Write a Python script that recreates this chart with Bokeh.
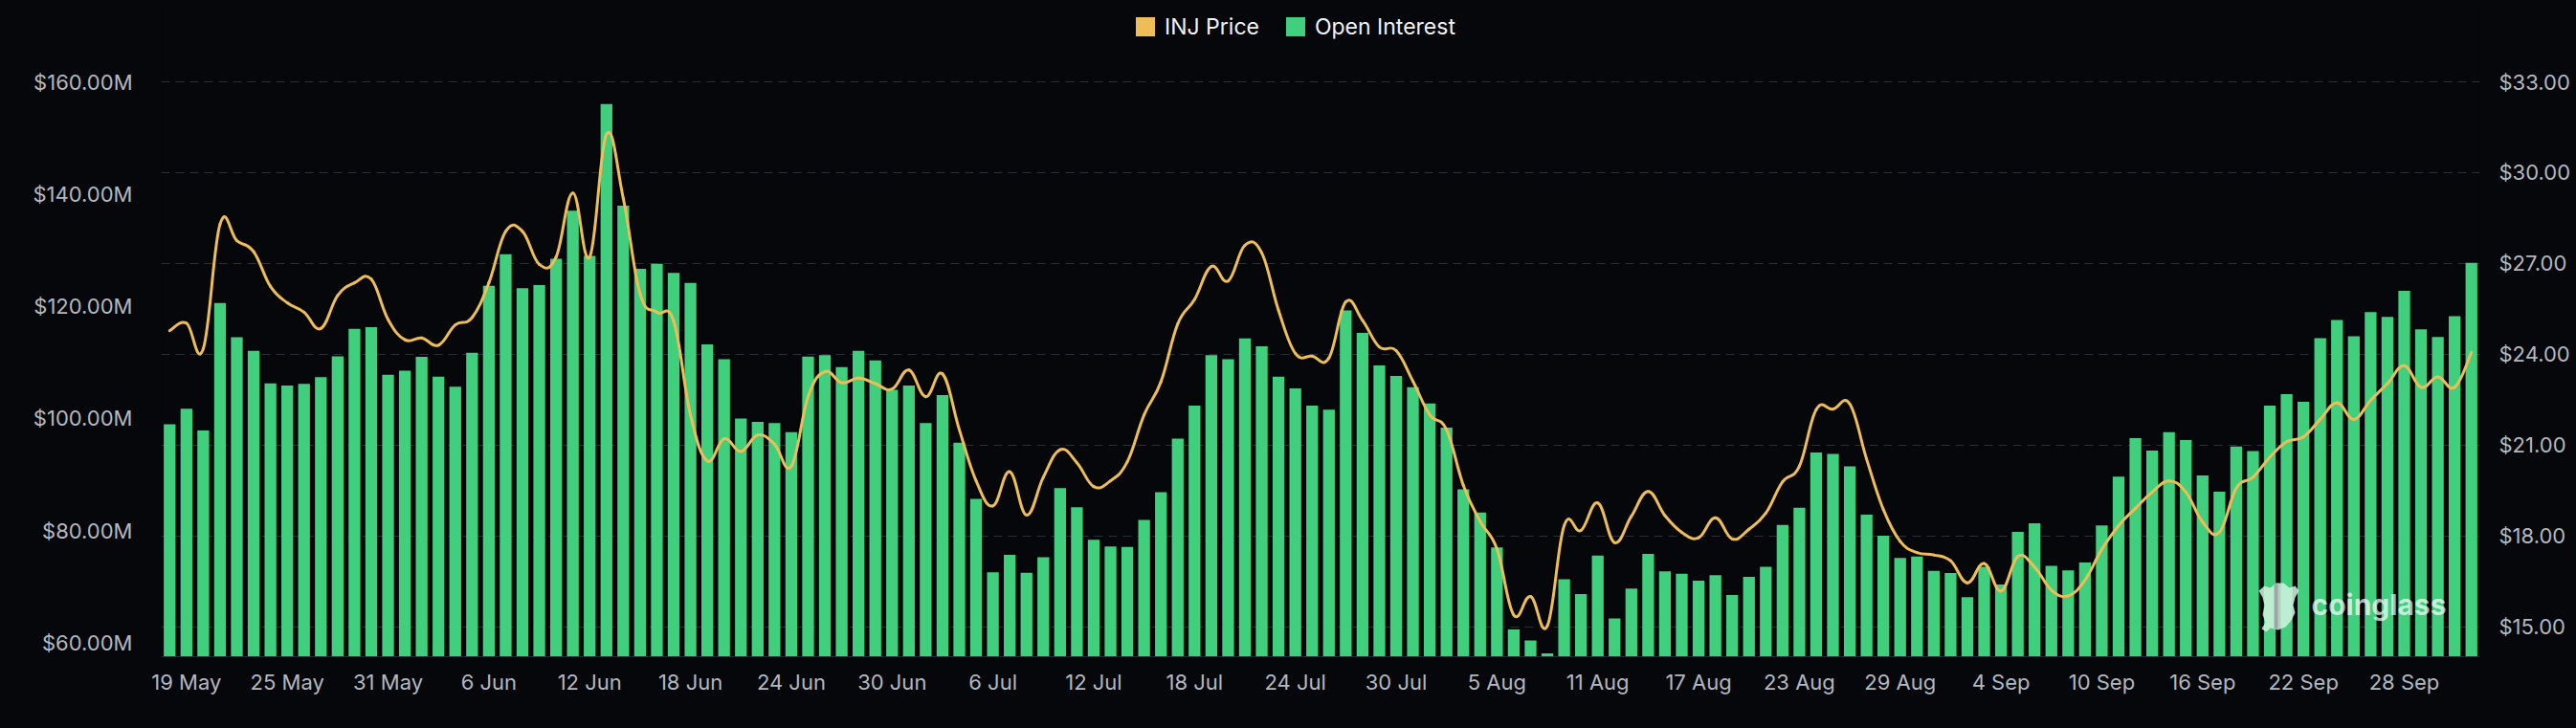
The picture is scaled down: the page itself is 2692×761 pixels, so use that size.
import pandas as pd
from bokeh.plotting import figure
from bokeh.models import (Range1d, LinearAxis, FixedTicker, PrintfTickFormatter, Grid,
                          Legend, LegendItem, ColumnDataSource, Label, PolyAnnotation,
                          BoxAnnotation)
from bokeh.embed import file_html
from bokeh.resources import INLINE

# ---------------- data ----------------
START_DATE = "2024-05-18"

OPEN_INTEREST_M = [
    98.95, 101.7, 97.85, 120.55, 114.45, 112.05, 106.25, 105.85, 106.15, 107.35,
    111.05, 115.95, 116.25, 107.75, 108.5, 110.95, 107.45, 105.65, 111.7, 123.65,
    129.25, 123.2, 123.75, 128.45, 137.0, 128.95, 156.05, 137.9, 126.65, 127.55,
    125.95, 124.15, 113.2, 110.55, 99.95, 99.35, 99.15, 97.55, 111.0, 111.25,
    109.15, 112.05, 110.35, 105.1, 105.85, 99.15, 104.15, 95.65, 85.65, 72.55,
    75.65, 72.45, 75.25, 87.55, 84.15, 78.35, 77.15, 77.05, 81.9, 86.85,
    96.4, 102.25, 111.25, 110.55, 114.25, 112.85, 107.45, 105.35, 102.25, 101.55,
    119.25, 115.25, 109.45, 107.55, 105.55, 102.65, 98.35, 87.35, 83.2, 77.0,
    62.35, 60.4, 58.1, 71.31, 68.65, 75.55, 64.31, 69.65, 75.82, 72.74,
    72.29, 71.05, 72.03, 68.5, 71.76, 73.53, 80.98, 84.05, 93.92, 93.66,
    91.44, 82.81, 79.09, 75.1, 75.36, 72.81, 72.42, 68.1, 73.53, 70.39,
    79.74, 81.31, 73.72, 72.88, 74.31, 80.92, 89.61, 96.47, 94.25, 97.52,
    96.14, 89.8, 86.93, 94.97, 94.18, 102.29, 104.31, 102.94, 114.31, 117.52,
    114.64, 118.95, 118.1, 122.74, 115.88, 114.51, 118.23, 127.71,
]

INJ_PRICE = [
    24.78, 25.03, 24.18, 28.30, 27.75, 27.39, 26.24, 25.70, 25.39, 24.85,
    25.94, 26.36, 26.48, 25.15, 24.48, 24.54, 24.30, 24.97, 25.21, 26.36,
    28.06, 28.06, 26.97, 27.21, 29.33, 27.21, 31.27, 29.15, 26.00, 25.39,
    25.09, 22.00, 20.48, 21.21, 20.79, 21.33, 21.03, 20.30, 22.60, 23.43,
    23.06, 23.21, 23.03, 22.85, 23.48, 22.60, 23.35, 21.51, 19.82, 18.99,
    20.12, 18.69, 19.94, 20.85, 20.42, 19.63, 19.82, 20.45, 22.00, 23.09,
    25.00, 25.81, 26.90, 26.42, 27.60, 27.35, 25.45, 24.03, 23.94, 23.88,
    25.73, 25.12, 24.24, 24.12, 23.11, 22.00, 21.51, 19.67, 18.48, 17.57,
    15.39, 16.00, 15.03, 18.34, 18.18, 19.09, 17.78, 18.65, 19.47, 18.67,
    18.12, 17.94, 18.60, 17.90, 18.22, 18.75, 19.79, 20.30, 22.17, 22.19,
    22.36, 20.54, 18.87, 17.82, 17.45, 17.37, 17.18, 16.45, 17.09, 16.18,
    17.32, 16.97, 16.21, 16.02, 16.54, 17.56, 18.34, 18.91, 19.45, 19.82,
    19.45, 18.46, 18.12, 19.57, 19.94, 20.60, 21.11, 21.27, 21.85, 22.40,
    21.85, 22.48, 23.03, 23.62, 22.91, 23.25, 22.91, 24.06,
]

X_TICK_LABELS = ["19 May", "25 May", "31 May", "6 Jun", "12 Jun", "18 Jun", "24 Jun",
                 "30 Jun", "6 Jul", "12 Jul", "18 Jul", "24 Jul", "30 Jul", "5 Aug",
                 "11 Aug", "17 Aug", "23 Aug", "29 Aug", "4 Sep", "10 Sep", "16 Sep",
                 "22 Sep", "28 Sep"]
LEFT_TICKS = [60, 80, 100, 120, 140, 160]
RIGHT_TICKS = [15, 18, 21, 24, 27, 30, 33]
# value ranges; the frame also holds the legend strip above the $160M / $33 line
LEFT_RANGE = (57.5, 174.5)
RIGHT_RANGE = (14.01, 35.686)

# ---------------- styles ----------------
BG = "#05070b"
GREEN = "#40cf7c"
ORANGE = "#efbd55"
AXIS_TEXT = "#b3b7bf"
LEGEND_TEXT = "#f2f3f5"
GRID = "#2a2e36"
FONT = "Inter"

dates = pd.date_range(START_DATE, periods=len(OPEN_INTEREST_M), freq="D")
date_labels = [f"{d.day} {d.strftime('%b')}" for d in dates]
xs = list(range(len(dates)))
tick_pos = [i for i, lab in enumerate(date_labels) if lab in X_TICK_LABELS]

p = figure(width=2692, height=761, output_backend="svg", toolbar_location=None,
           x_range=Range1d(-0.5, len(xs) - 0.5), y_range=Range1d(*LEFT_RANGE),
           min_border_left=168, min_border_right=101, min_border_top=0, min_border_bottom=75,
           background_fill_color=BG, border_fill_color=None, outline_line_color=None)
p.extra_y_ranges = {"price": Range1d(*RIGHT_RANGE)}

p.xgrid.visible = False
p.ygrid.visible = False

grid = Grid(dimension=1, ticker=FixedTicker(ticks=RIGHT_TICKS, minor_ticks=[]),
            y_range_name="price", grid_line_color=GRID, grid_line_dash="9 6",
            grid_line_width=1)
p.add_layout(grid)

src = ColumnDataSource(dict(x=xs, oi=OPEN_INTEREST_M, price=INJ_PRICE))
bars = p.vbar(x="x", top="oi", bottom=0, width=0.7, source=src,
              fill_color=GREEN, line_color=None)

# smooth price line: bezier segments through the price points
n = len(INJ_PRICE)
s = 0.2
b = dict(x0=[], y0=[], x1=[], y1=[], cx0=[], cy0=[], cx1=[], cy1=[])
for i in range(n - 1):
    im, i2 = max(i - 1, 0), min(i + 2, n - 1)
    b["x0"].append(xs[i]); b["y0"].append(INJ_PRICE[i])
    b["x1"].append(xs[i + 1]); b["y1"].append(INJ_PRICE[i + 1])
    b["cx0"].append(xs[i] + s * (xs[i + 1] - xs[im]))
    b["cy0"].append(INJ_PRICE[i] + s * (INJ_PRICE[i + 1] - INJ_PRICE[im]))
    b["cx1"].append(xs[i + 1] - s * (xs[i2] - xs[i]))
    b["cy1"].append(INJ_PRICE[i + 1] - s * (INJ_PRICE[i2] - INJ_PRICE[i]))
p.bezier(x0="x0", y0="y0", x1="x1", y1="y1", cx0="cx0", cy0="cy0", cx1="cx1", cy1="cy1",
         source=ColumnDataSource(b), line_color=ORANGE, line_width=3,
         line_cap="round", y_range_name="price")

# hidden price renderer, used only for its square legend swatch
price_swatch = p.vbar(x="x", top="price", width=0.7, source=src, y_range_name="price",
                      fill_color=ORANGE, line_color=None, visible=False)

legend = Legend(items=[LegendItem(label="INJ Price", renderers=[price_swatch]),
                       LegendItem(label="Open Interest", renderers=[bars])],
                orientation="horizontal", location=(1016, 644.5),
                glyph_width=25, glyph_height=25, label_standoff=8, spacing=25,
                padding=0, margin=0, border_line_color=None, background_fill_alpha=0,
                label_text_font=FONT, label_text_font_size="23px",
                label_text_color=LEGEND_TEXT, label_height=25)
p.add_layout(legend)

xa = p.xaxis[0]
xa.ticker = FixedTicker(ticks=tick_pos, minor_ticks=[])
xa.major_label_overrides = {i: date_labels[i] for i in tick_pos}
xa.axis_line_color = "#2a2d34"
xa.major_tick_line_color = None
xa.minor_tick_line_color = None
xa.major_label_standoff = 7
xa.major_label_text_font = FONT
xa.major_label_text_font_size = "22px"
xa.major_label_text_color = AXIS_TEXT

ya = p.yaxis[0]
ya.ticker = FixedTicker(ticks=LEFT_TICKS, minor_ticks=[])
ya.formatter = PrintfTickFormatter(format="$%.2fM")
ya.axis_line_color = None
ya.major_tick_line_color = None
ya.minor_tick_line_color = None
ya.major_label_standoff = 24
ya.major_label_text_font = FONT
ya.major_label_text_font_size = "22px"
ya.major_label_text_color = AXIS_TEXT

ra = LinearAxis(y_range_name="price", ticker=FixedTicker(ticks=RIGHT_TICKS, minor_ticks=[]),
                formatter=PrintfTickFormatter(format="$%.2f"))
ra.axis_line_color = None
ra.major_tick_line_color = None
ra.minor_tick_line_color = None
ra.major_label_standoff = 14
ra.major_label_text_font = FONT
ra.major_label_text_font_size = "22px"
ra.major_label_text_color = AXIS_TEXT
p.add_layout(ra, "right")

# watermark: pale logo blob + "coinglass" text (screen units, relative to the frame)
logo_x = [2192, 2198, 2204, 2210, 2218, 2224, 2230, 2234, 2230, 2228, 2230, 2226,
          2220, 2212, 2204, 2200, 2195, 2199, 2196, 2198, 2196]
logo_y = [69, 74, 72, 77, 77, 72, 74, 69, 62, 54, 46, 38, 31, 28, 30, 26, 29, 36, 44, 54, 62]
p.add_layout(PolyAnnotation(xs=logo_x, ys=logo_y, xs_units="screen", ys_units="screen",
                            fill_color="#d4f3e1", fill_alpha=0.85, line_color=None))
p.add_layout(BoxAnnotation(left=2208, right=2212, bottom=29, top=76,
                           left_units="screen", right_units="screen",
                           bottom_units="screen", top_units="screen",
                           fill_color="#9aa0a6", fill_alpha=0.9, line_color=None))
p.add_layout(Label(x=2247, y=55, x_units="screen", y_units="screen", text="coinglass",
                   text_font=FONT, text_font_size="30px", text_font_style="bold",
                   text_color="white", text_alpha=0.7, text_baseline="alphabetic"))

html = file_html(p, INLINE, title="INJ Open Interest")
page_css = ("<style>html, body { background-color: %s !important; }"
            " .bk-root, div { background-color: transparent; }</style>" % BG)
html = html.replace("</head>", page_css + "</head>", 1)
open("out.html", "w").write(html)
